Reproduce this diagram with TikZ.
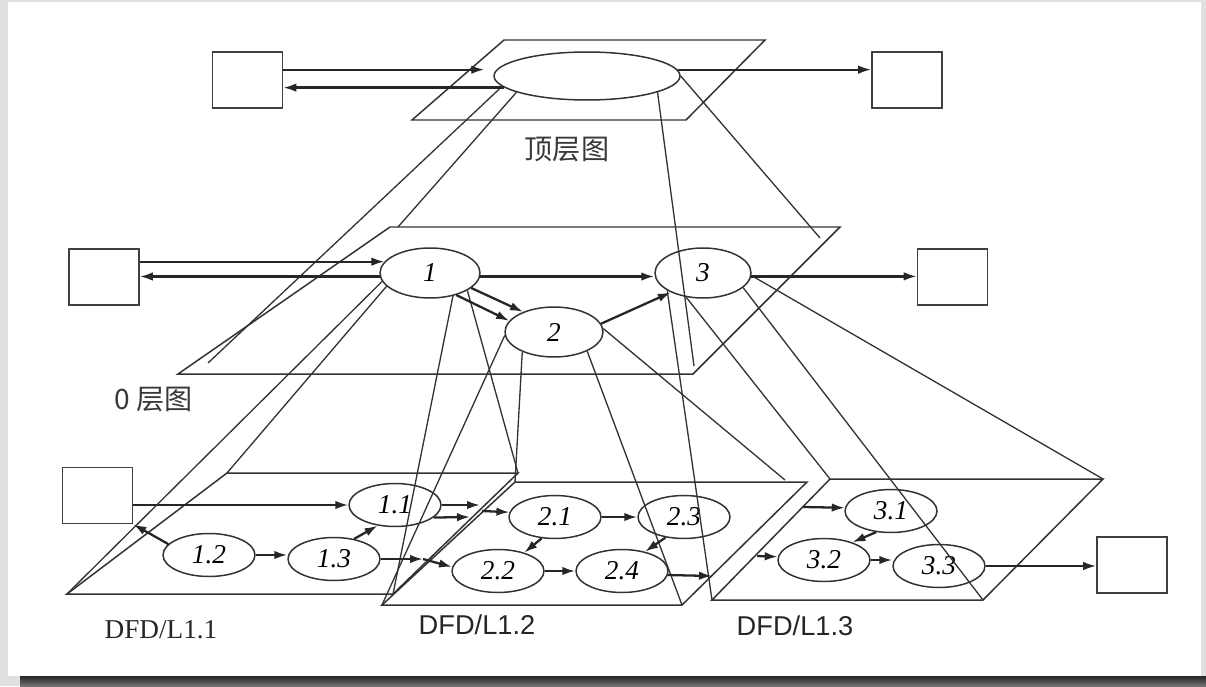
\documentclass[tikz,border=0pt]{standalone}
\usepackage{fontspec}
\setmainfont{Liberation Serif}
\newfontfamily\arialfont{Liberation Sans}
\newfontfamily\cjkfont{Noto Sans CJK SC}
\usetikzlibrary{shapes.geometric,arrows.meta,calc}

\begin{document}
\begin{tikzpicture}[x=0.02cm,y=-0.02cm,
  line/.style={draw=black!80,line width=0.75pt},
  plane/.style={draw=black!80,line width=0.85pt},
  flow/.style={draw=black!85,line width=1.3pt,-{Latex[length=2.6mm,width=1.7mm]}},
  extbox/.style={draw=black!75,line width=0.9pt,minimum width=1.4cm,minimum height=1.12cm,inner sep=0pt},
  bubble/.style={ellipse,draw=black!80,line width=0.85pt,inner sep=0pt,font=\fontsize{15.5}{15.5}\selectfont\itshape},
  lvl/.style={bubble,minimum width=2cm,minimum height=1cm},
  sub/.style={bubble,minimum width=1.84cm,minimum height=0.86cm},
  cjk/.style={text=black!78,font=\cjkfont\fontsize{16}{16}\selectfont},
  dfdname/.style={text=black!85,font=\fontsize{15.5}{15.5}\selectfont}]
\useasboundingbox (0,0) rectangle (1206,686);
\fill[black!12] (0,0) rectangle (1206,686);
\fill[white] (8,2) rectangle (1201,676);
\shade[top color=black!85,bottom color=black!55] (20,676) rectangle (1206,686);

\node[extbox] (lt) at (247.5,80) {};
\node[extbox] (rt) at (907,80) {};
\node[bubble,minimum width=3.72cm,minimum height=0.96cm] (e0) at (587,76) {};
\draw[plane] (504,40) -- (765,40) -- (686,120) -- (412,120) -- cycle;
\node[cjk] (t0) at (567,150) {顶层图};

\node[extbox] (lb) at (104,277) {};
\node[extbox] (rb) at (952.5,277) {};
\node[lvl] (e1) at (430,273) {1};
\node[lvl,minimum width=1.96cm] (e2) at (554,332) {2};
\node[lvl,minimum width=1.92cm] (e3) at (703,273) {3};
\draw[plane] (390,227) -- (840,227) -- (693,374) -- (178,374) -- cycle;
\node[cjk] (t1) at (154,400) {0 层图};

\node[extbox] (lb1) at (97.5,495.5) {};
\node[extbox] (rb1) at (1132,565) {};
\node[sub] (e11) at (395,505) {1.1};
\node[sub] (e12) at (209,555) {1.2};
\node[sub] (e13) at (334,559) {1.3};
\node[sub] (e21) at (555,517) {2.1};
\node[sub] (e22) at (498,571) {2.2};
\node[sub] (e23) at (684,517) {2.3};
\node[sub] (e24) at (622,571) {2.4};
\node[sub] (e31) at (891,511) {3.1};
\node[sub] (e32) at (824,560) {3.2};
\node[sub] (e33) at (939,566) {3.3};
\draw[plane] (227,473) coordinate (a1) -- (518,473) coordinate (a2)
  -- (393,594) coordinate (a3) -- (67,594) coordinate (a4) -- cycle;
\draw[plane] (515,482) coordinate (b1) -- (807,482) coordinate (b2)
  -- (682,605) coordinate (b3) -- (382,605) coordinate (b4) -- cycle;
\draw[plane] (830,479) coordinate (c1) -- (1103,479) coordinate (c2)
  -- (983,600) coordinate (c3) -- (712,600) coordinate (c4) -- cycle;
\node[dfdname] (n1) at (161,630) {DFD/L1.1};
\node[dfdname,font=\arialfont\fontsize{15.5}{15.5}\selectfont] (n2) at (477,625) {DFD/L1.2};
\node[dfdname,font=\arialfont\fontsize{15.5}{15.5}\selectfont] (n3) at (795,626) {DFD/L1.3};

\coordinate (q1) at (208,363);
\coordinate (q2) at (398,227);
\coordinate (q3) at (694,366);
\coordinate (q4) at (820,238);
\coordinate (q5) at (785,480);
\coordinate (k1) at (480,505);
\coordinate (k2) at (470,517);
\coordinate (k3) at (482,511);
\coordinate (k4) at (423,559);
\coordinate (k5) at (712,576);
\coordinate (k6) at (803,507);
\coordinate (k7) at (757,556);

\draw[line] (e0.187) -- (q1);
\draw[line] (e0.193) -- (q2);
\draw[line] (e0.347) -- (q3);
\draw[line] (e0.east) -- (q4);
\draw[line] (e1.190) -- (a4);
\draw[line] (e1.197) -- (a1);
\draw[line] (e1.315) -- (a3);
\draw[line] (e1.335) -- (a2);
\draw[line] (e2.212) -- (b1);
\draw[line] (e2.184) -- (b4);
\draw[line] (e2.330) -- (b3);
\draw[line] (e2.4) -- (q5);
\draw[line] (e3.206) -- (c4);
\draw[line] (e3.235) -- (c1);
\draw[line] (e3.340) -- (c3);
\draw[line] (e3.357) -- (c2);

\draw[flow,shorten >=0.24cm] (lt.east |- e0.176) -- (e0.176);
\draw[flow] (e0.188) -- (lt.east |- e0.188);
\draw[flow] (e0.4) -- (rt.west |- e0.4);

\draw[flow] (lb.east |- e1.166) -- (e1.166);
\draw[flow] (e1.184) -- (lb.east |- e1.184);
\draw[flow] (e1.356) -- (e1.356 -| e3.west);
\draw[flow] (e1.340) -- (e2.147);
\draw[flow] (e1.320) -- (e2.166);
\draw[flow] (e2.10) -- (e3.211);
\draw[flow] (e3.356) -- (e3.356 -| rb.west);

\draw[flow] (lb1.east |- e11.west) -- (e11.west);
\draw[flow] (e12.165) -- (lb1.south east);
\draw[flow] (e12.east) -- (e12.east -| e13.west);
\draw[flow] (e13.45) -- (e11.230);
\draw[flow] (e11.east) -- (k1);
\draw[flow] (e11.342) -- (k2);
\draw[flow] (k3) -- (e21.174);
\draw[flow] (e13.east) -- (k4);
\draw[flow] (k4) -- (e22.175);
\draw[flow] (e21.east) -- (e23.west);
\draw[flow] (e21.238) -- (e22.35);
\draw[flow] (e22.east) -- (e22.east -| e24.west);
\draw[flow] (e23.228) -- (e24.40);
\draw[flow] (e24.355) -- (k5);
\draw[flow] (k6) -- (e31.176);
\draw[flow] (k7) -- (e32.176);
\draw[flow] (e31.235) -- (e32.32);
\draw[flow] (e32.east) -- (e32.east -| e33.west);
\draw[flow] (e33.east) -- (e33.east -| rb1.west);
\end{tikzpicture}
\end{document}
